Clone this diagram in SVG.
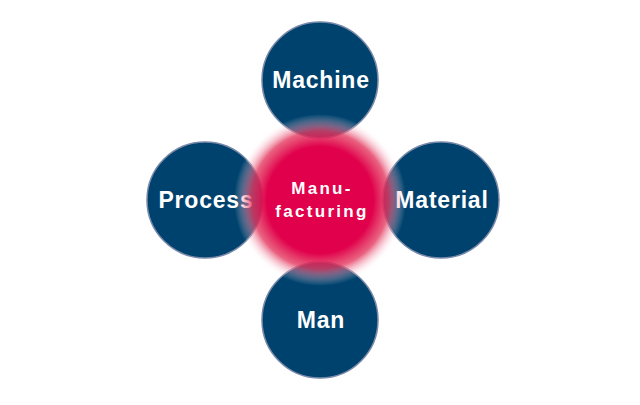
<svg xmlns="http://www.w3.org/2000/svg" width="640" height="405" viewBox="0 0 640 405">
<style>
.n{fill:#00426e;stroke:#7888a8;stroke-width:1.5}
.t{font-family:"Liberation Sans",Arial,sans-serif;font-weight:bold;fill:#fff;text-anchor:middle}
.big{font-size:23px;letter-spacing:0.8px}
.mid{font-size:17px;letter-spacing:2.3px}
</style>
<defs>
<radialGradient id="g" cx="320" cy="200" r="86" gradientUnits="userSpaceOnUse">
<stop offset="0" stop-color="#e0004b"/>
<stop offset="0.62" stop-color="#e0004b"/>
<stop offset="0.8" stop-color="#e43a60" stop-opacity="0.8"/>
<stop offset="1" stop-color="#ffffff" stop-opacity="0"/>
</radialGradient>
</defs>
<rect width="640" height="405" fill="#fff"/>
<g id="machine"><circle class="n" cx="320" cy="80" r="58"/><text class="t big" x="321" y="88">Machine</text></g>
<g id="process"><circle class="n" cx="205" cy="200" r="58"/><text class="t big" x="206" y="208">Process</text></g>
<g id="material"><circle class="n" cx="441" cy="200" r="58"/><text class="t big" x="442" y="208">Material</text></g>
<g id="man"><circle class="n" cx="320" cy="320" r="58"/><text class="t big" x="321" y="328">Man</text></g>
<g id="connectors"></g>
<g id="manufacturing"><circle cx="320" cy="200" r="86" fill="url(#g)"/>
<text class="t mid" x="322" y="194">Manu-</text>
<text class="t mid" x="322" y="217">facturing</text></g>
</svg>
